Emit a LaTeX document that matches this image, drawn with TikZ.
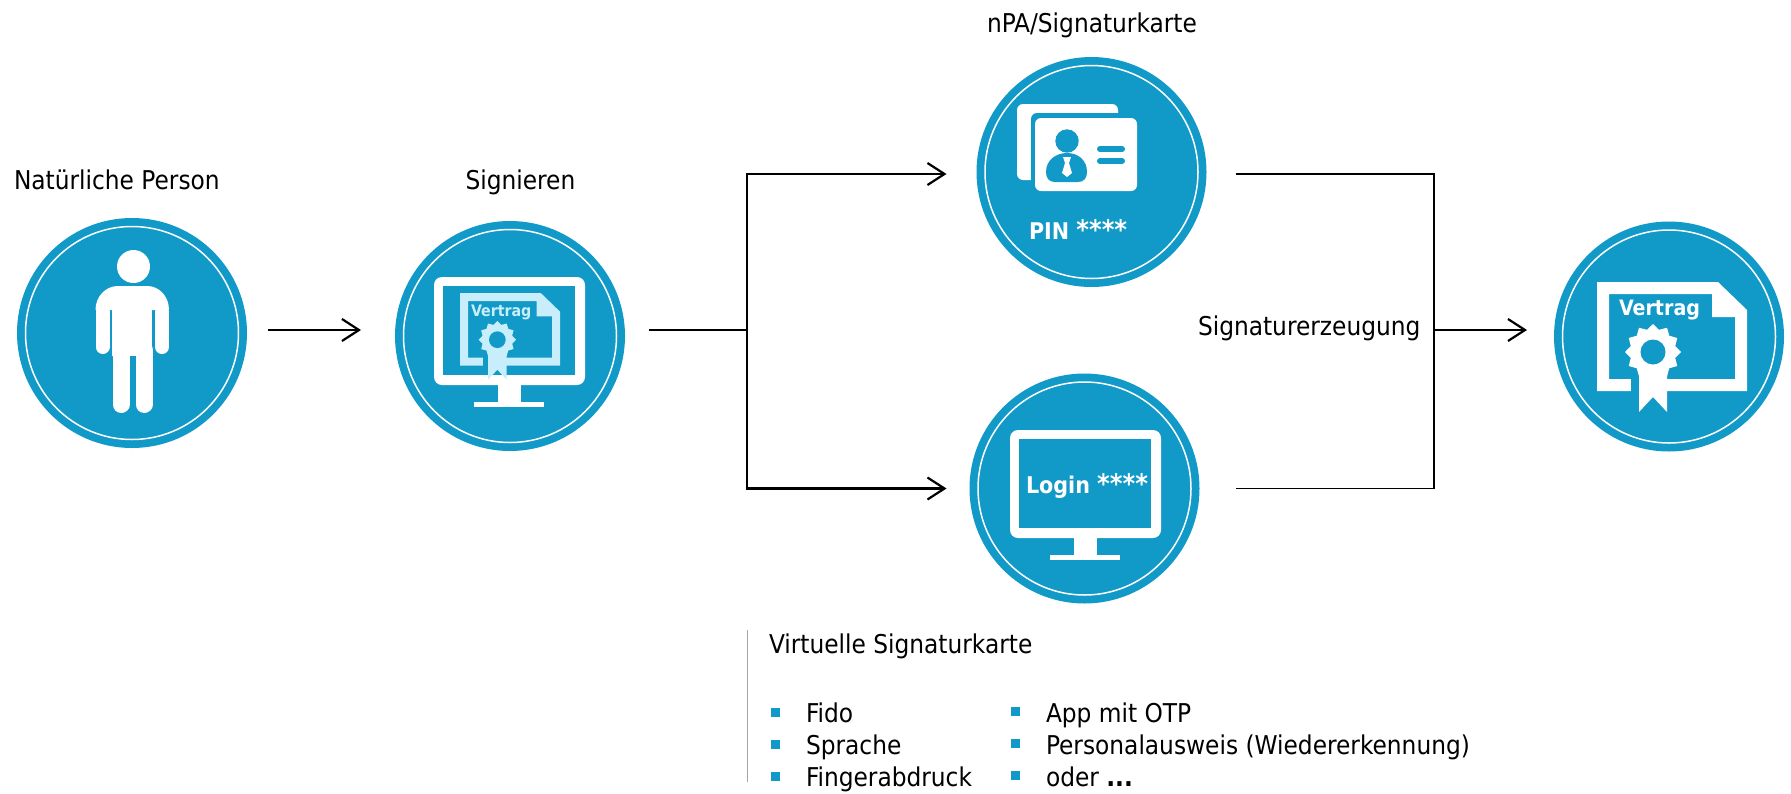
\documentclass[tikz,border=0pt]{standalone}
\usepackage{fontspec}
\setmainfont{DejaVu Sans Condensed}
\usetikzlibrary{arrows.meta}
\definecolor{sigblue}{HTML}{1199C8}
\definecolor{siglight}{HTML}{C8EEFB}
\definecolor{siggrey}{HTML}{A6A6A6}
\newcommand{\stars}{{\fontsize{27}{30}\selectfont ****}}
\tikzset{
  badge/.style={circle,fill=sigblue,minimum size=230pt,inner sep=0pt,outer sep=0pt},
  caption/.style={anchor=base west,inner sep=0pt,outer sep=0pt,font=\fontsize{25.9}{30}\selectfont},
  inlay/.style={anchor=base west,inner sep=0pt,outer sep=0pt,font=\fontsize{#1}{30}\selectfont\bfseries},
  square/.style={fill=sigblue,inner sep=0pt,outer sep=0pt,minimum size=9pt},
  flow/.style={line width=1.4pt},
  flowtip/.style={line width=2.2pt,-{Straight Barb[length=17pt,width=22pt,line width=2.2pt]}},
  pics/monitor/.style={code={
    \fill[white,rounded corners=8pt] (0,0) rectangle (151,108);
    \fill[sigblue] (9,9) rectangle (141,98);
    \fill[white] (64,108) rectangle (87,125);
    \fill[white] (40,125) rectangle (110,130);
  }},
  pics/vertragdoc/.style={code={
    \fill[#1,even odd rule] (0,0) -- (121,0) -- (150,28) -- (150,109) -- (0,109) -- cycle
      (12,12) -- (115,12) -- (115,35) -- (138,35) -- (138,97) -- (12,97) -- cycle;
    \fill[sigblue] (34,96) rectangle (42,110);
    \fill[#1] (42,85) -- (70,85) -- (70,130) -- (56,115) -- (42,130) -- cycle;
    \fill[#1] plot[domain=0:24,samples=25] ({56+(25.5+2.5*cos(\x*180))*sin(\x*15)},{70-(25.5+2.5*cos(\x*180))*cos(\x*15)}) -- cycle;
    \fill[sigblue] (56,70) circle (12.5);
  }},
}
\begin{document}
\begin{tikzpicture}[x=1pt,y=-1pt]
\useasboundingbox (0,0) rectangle (1791,793);
\node[badge] (person) at (132,333) {};
\node[badge] (sign) at (510,336) {};
\node[badge] (card) at (1091.5,172) {};
\node[badge] (login) at (1084.5,488.5) {};
\node[badge] (result) at (1669,336.5) {};
\foreach \n in {person,sign,card,login,result}
  \draw[white,line width=1.5pt] (\n) circle (106.5);
\node[caption] (personlabel) at (14,189) {Natürliche Person};
\node[caption] (signlabel) at (465.5,189) {Signieren};
\node[caption] (cardlabel) at (987,32) {nPA/Signaturkarte};
\node[caption] (mergelabel) at (1198,335) {Signaturerzeugung};
\node[caption] (listlabel) at (769,653) {Virtuelle Signaturkarte};
% person
\fill[white] (133.5,266.5) circle (16.5);
\fill[white] (95.5,310) .. controls (95.5,296) and (106,286) .. (118,286) -- (147,286)
  .. controls (159,286) and (169,296) .. (169,310) -- cycle;
\fill[white] (112.4,300) rectangle (152.4,356);
\draw[white,line width=14pt,line cap=round] (102.5,312) -- (102.5,347) (162,312) -- (162,347);
\draw[white,line width=17pt,line cap=round] (121,350) -- (121,404.5) (144,350) -- (144,404.5);
% screens
\pic at (434,277) {monitor};
\pic[scale=.667] at (460,293) {vertragdoc=siglight};
\node[inlay=15.8,text=siglight] (signdoc) at (471,316) {Vertrag};
\pic at (1010,430) {monitor};
\node[inlay=23,text=white] (loginpin) at (1026,493) {Login \stars};
\pic at (1597,282) {vertragdoc=white};
\node[inlay=21.2,text=white] (resultdoc) at (1619,315) {Vertrag};
% id cards
\fill[white,rounded corners=6pt] (1017,104) rectangle (1118,180);
\fill[sigblue,rounded corners=6pt] (1031,113) rectangle (1142,196);
\fill[white,rounded corners=6pt] (1035,118) rectangle (1137,191);
\fill[sigblue] (1067,141) circle (11.7);
\fill[sigblue] (1046,172) .. controls (1046,160) and (1056,153) .. (1067,153)
  .. controls (1078,153) and (1087,160) .. (1087,172)
  .. controls (1087,178) and (1084,182) .. (1078,182) -- (1055,182)
  .. controls (1049,182) and (1046,178) .. (1046,172) -- cycle;
\fill[white] (1063,157) -- (1071,157) -- (1069,163) -- (1072,173) -- (1067,177) -- (1062,173) -- (1065,163) -- cycle;
\draw[sigblue,line width=6pt,line cap=round] (1100,149) -- (1122,149) (1100,161) -- (1122,161);
\node[inlay=23,text=white] (cardpin) at (1029,239) {PIN \stars};
% connectors
\coordinate (split) at (747,330);
\coordinate (merge) at (1434,330);
\draw[flowtip,shorten <=21pt,shorten >=34pt] (person.east |- split) -- (sign.west |- split);
\draw[flow,shorten <=24pt] (sign.east |- split) -- (split);
\draw[flowtip,shorten >=30pt] (split) |- ([yshift=-2pt]card.west);
\draw[flowtip,shorten >=23pt] (split) |- (login.west);
\draw[flow,shorten <=29pt,shorten >=36pt] ([yshift=-2pt]card.east) -| (merge) |- (login.east);
\draw[flowtip,shorten >=27pt] (merge) -- (result.west |- merge);
% list
\coordinate (ruletop) at (747,630);
\coordinate (rulebottom) at (747,782);
\draw[siggrey,line width=1pt] (ruletop) -- (rulebottom);
\node[square] (s1) at (775,712) {};
\node[square] (s2) at (775,744) {};
\node[square] (s3) at (775,776) {};
\node[square] (s4) at (1015.5,711) {};
\node[square] (s5) at (1015.5,743) {};
\node[square] (s6) at (1015.5,775) {};
\node[caption] (i1) at (806,722) {Fido};
\node[caption] (i2) at (806,754) {Sprache};
\node[caption] (i3) at (806,786) {Fingerabdruck};
\node[caption] (i4) at (1046,722) {App mit OTP};
\node[caption] (i5) at (1046,754) {Personalausweis (Wiedererkennung)};
\node[caption] (i6) at (1046,786) {oder \textbf{...}};
\end{tikzpicture}
\end{document}
